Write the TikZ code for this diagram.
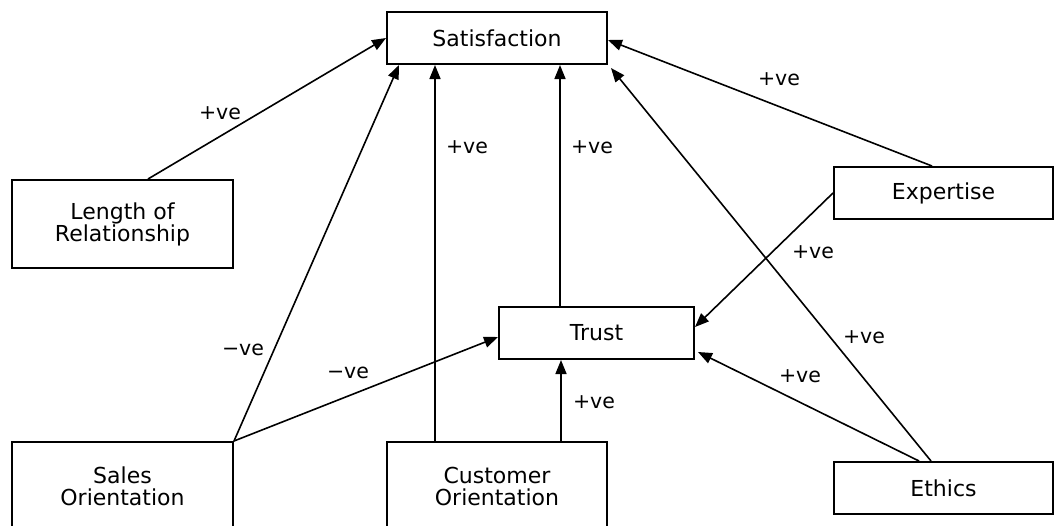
\documentclass[tikz,border=0pt]{standalone}
\usepackage{fontspec}
\setmainfont{DejaVu Sans}
\usetikzlibrary{arrows.meta}
\tikzset{
  box/.style={draw, line width=2pt, fill=white, align=center, inner sep=0pt,
    font=\fontsize{22}{22}\selectfont},
  lbl/.style={inner sep=0pt, font=\fontsize{20.5}{22}\selectfont},
  conn/.style={line width=1.6pt, -{Triangle[length=14pt,width=11pt]}},
}
\begin{document}
\begin{tikzpicture}[x=1pt,y=-1pt]
\clip (0,0) rectangle (1054,525);
\fill[white] (0,0) rectangle (1054,525);
% nodes
\node[box, minimum width=220pt, minimum height=52pt] (sat) at (497,38) {Satisfaction};
\node[box, minimum width=221pt, minimum height=88pt] (len) at (122.5,224) {Length of\\Relationship};
\node[box, minimum width=219pt, minimum height=52pt] (exp) at (943.5,193) {Expertise};
\node[box, minimum width=195pt, minimum height=52pt] (trust) at (596.5,333) {Trust};
\node[box, minimum width=221pt, minimum height=88pt] (sales) at (122.5,486) {Sales\\Orientation};
\node[box, minimum width=220pt, minimum height=88pt] (cust) at (497,486) {Customer\\Orientation};
\node[box, minimum width=219pt, minimum height=52pt] (eth) at (943.5,488) {Ethics};
% connectors
\draw[conn] ([xshift=25.5pt]len.north) -- (sat.west);
\draw[conn] (sales.north east) -- ([xshift=13pt]sat.south west);
\draw[conn] ([xshift=49pt]cust.north west) -- ([xshift=49pt]sat.south west);
\draw[conn] ([xshift=62pt]trust.north west) -- ([xshift=174pt]sat.south west);
\draw[conn] ([xshift=99pt]exp.north west) -- ([yshift=-2pt]sat.east);
\draw[conn] ([xshift=98pt]eth.north west) -- ([shift={(3pt,-3pt)}]sat.south east);
\draw[conn] (exp.west) -- ([yshift=6pt]trust.east);
\draw[conn] ([xshift=86pt]eth.north west) -- ([shift={(3pt,8pt)}]trust.south east);
\draw[conn] (sales.north east) -- ([yshift=-4pt]trust.west);
\draw[conn] ([xshift=175pt]cust.north west) -- ([xshift=63pt]trust.south west);
% labels
\node[lbl] (l1) at (220,113) {+ve};
\node[lbl] (l2) at (243,350) {−ve};
\node[lbl] (l3) at (467,147) {+ve};
\node[lbl] (l4) at (592,147) {+ve};
\node[lbl] (l5) at (779,79) {+ve};
\node[lbl] (l6) at (864,337) {+ve};
\node[lbl] (l7) at (813,252) {+ve};
\node[lbl] (l8) at (800,376) {+ve};
\node[lbl] (l9) at (348,373) {−ve};
\node[lbl] (l10) at (594,402) {+ve};
\end{tikzpicture}
\end{document}
